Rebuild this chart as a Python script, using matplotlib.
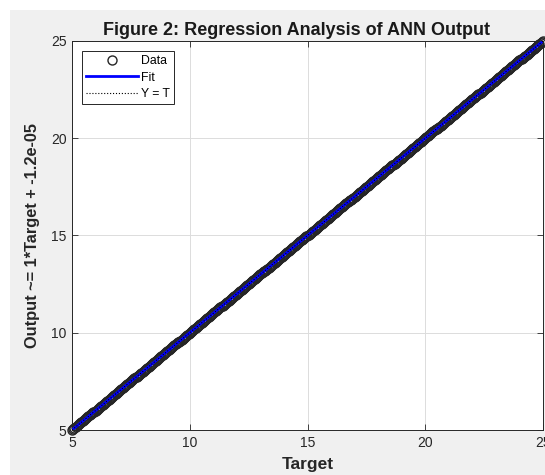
import numpy as np
import matplotlib.pyplot as plt
from matplotlib.patches import Rectangle

plt.rcParams['font.family'] = ['Liberation Sans', 'DejaVu Sans']

# data: targets are evenly spaced from 5 to 25, output follows the fit in the label
target = np.arange(5, 25.001, 0.05)
slope = 1.0
offset = -1.2e-05
output = slope * target + offset

x_ticks = [5, 10, 15, 20, 25]
y_ticks = [5, 10, 15, 20, 25]

fig = plt.figure(figsize=(5.45, 4.75), dpi=100)
fig.patch.set_facecolor('white')
# matlab-like grey figure panel
fig.patches.append(Rectangle((10 / 545, 0), 1, 1 - 10 / 475, transform=fig.transFigure,
                             facecolor='#f0f0f0', edgecolor='none', zorder=-10))

ax = fig.add_axes([72 / 545, 1 - 430 / 475, 471 / 545, 389 / 475])
ax.set_facecolor('white')

ax.plot(target, output, 'o', mfc='none', mec='#252525', ms=6.5, mew=1.0,
        label='Data', clip_on=False, zorder=3)
ax.plot(target, slope * target + offset, '-', color='#0000ff', lw=2,
        label='Fit', zorder=4)
ax.plot(target, target, ':', color='black', lw=0.8, label='Y = T', zorder=5)

ax.set_xlim(5, 25)
ax.set_ylim(5, 25)
ax.set_xticks(x_ticks)
ax.set_yticks(y_ticks)
ax.tick_params(direction='in', length=4, width=0.6, colors='#262626',
               labelsize=10, top=True, right=True, pad=4)
ax.grid(True, color='#dcdcdc', lw=0.7)
ax.set_axisbelow(True)
for s in ax.spines.values():
    s.set_color('#262626')
    s.set_linewidth(0.7)

ax.set_title('Figure 2: Regression Analysis of ANN Output', fontsize=13,
             fontweight='bold', x=0.476, pad=4, color='#1a1a1a')
ax.set_xlabel('Target', fontsize=12.5, fontweight='bold', color='#262626', labelpad=5)
ax.set_ylabel('Output ~= 1*Target + -1.2e-05', fontsize=11.8, fontweight='bold',
              color='#262626', labelpad=8)

leg = ax.legend(loc='upper left', bbox_to_anchor=(10 / 471, 1 - 10 / 389),
                fontsize=8.8, frameon=True, fancybox=False, framealpha=1,
                edgecolor='#262626', borderpad=0.35, handlelength=4.2,
                handletextpad=0.3, labelspacing=0.35, borderaxespad=0)
leg.get_frame().set_linewidth(0.7)

plt.savefig('out.png', dpi=100)
